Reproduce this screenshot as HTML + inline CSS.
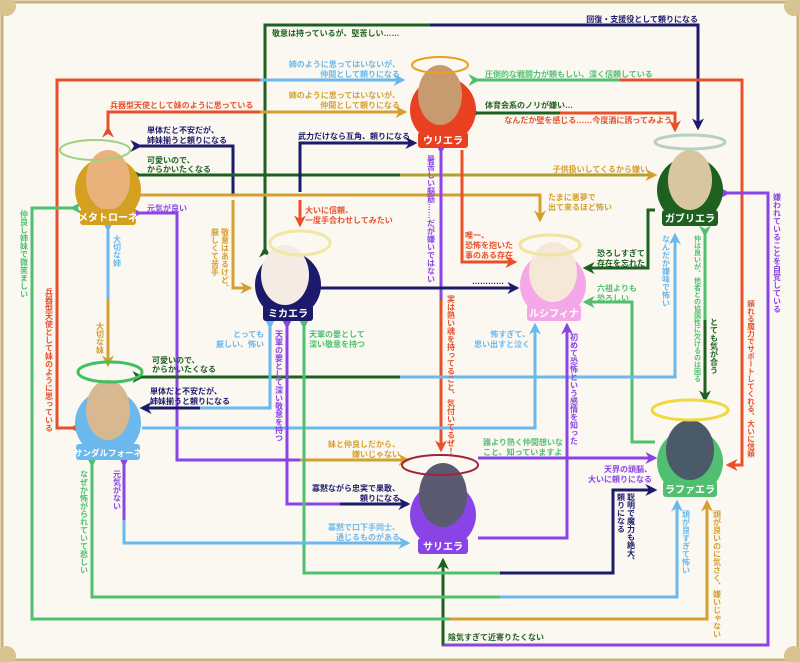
<!DOCTYPE html>
<html><head><meta charset="utf-8"><style>
html,body{margin:0;padding:0;background:#fbf8f2;}
svg{display:block;font-family:"Liberation Sans","Noto Sans CJK JP",sans-serif;font-weight:bold;}
.v{writing-mode:vertical-rl;}
text{font-size:8px;}
</style></head><body>
<svg width="800" height="662" viewBox="0 0 800 662" xmlns="http://www.w3.org/2000/svg">
<defs>
<marker id="m-red" viewBox="0 0 10 10" refX="8" refY="5" markerWidth="4" markerHeight="4" orient="auto"><path d="M0,0L10,5L0,10L3,5z" fill="#e8502a"/></marker>
<marker id="m-lb" viewBox="0 0 10 10" refX="8" refY="5" markerWidth="4" markerHeight="4" orient="auto"><path d="M0,0L10,5L0,10L3,5z" fill="#6ab8ec"/></marker>
<marker id="m-gold" viewBox="0 0 10 10" refX="8" refY="5" markerWidth="4" markerHeight="4" orient="auto"><path d="M0,0L10,5L0,10L3,5z" fill="#d4a030"/></marker>
<marker id="m-navy" viewBox="0 0 10 10" refX="8" refY="5" markerWidth="4" markerHeight="4" orient="auto"><path d="M0,0L10,5L0,10L3,5z" fill="#1c1a6a"/></marker>
<marker id="m-dg" viewBox="0 0 10 10" refX="8" refY="5" markerWidth="4" markerHeight="4" orient="auto"><path d="M0,0L10,5L0,10L3,5z" fill="#1e6020"/></marker>
<marker id="m-gr" viewBox="0 0 10 10" refX="8" refY="5" markerWidth="4" markerHeight="4" orient="auto"><path d="M0,0L10,5L0,10L3,5z" fill="#50c070"/></marker>
<marker id="m-pu" viewBox="0 0 10 10" refX="8" refY="5" markerWidth="4" markerHeight="4" orient="auto"><path d="M0,0L10,5L0,10L3,5z" fill="#8a44e6"/></marker>
</defs>
<rect x="2" y="2" width="796" height="658" fill="none" stroke="#c9b27c" stroke-width="3"/>
<circle cx="6" cy="6" r="10" fill="#d8c490"/><circle cx="794" cy="6" r="10" fill="#d8c490"/>
<circle cx="6" cy="656" r="10" fill="#d8c490"/><circle cx="794" cy="656" r="10" fill="#d8c490"/>

<g fill="none" stroke-width="3" stroke-linejoin="miter">
<polyline points="265,248 265,25 698,25 698,128" stroke="#1e6020" marker-start="url(#m-dg)"/>
<polyline points="430,25 698,25 698,128" stroke="#1c1a6a" marker-end="url(#m-navy)"/>
<polyline points="72,428 57,428 57,80 403,80" stroke="#e8502a" marker-start="url(#m-red)"/>
<polyline points="260,80 403,80" stroke="#6ab8ec" marker-end="url(#m-lb)"/>
<polyline points="108,128 108,112 405,112" stroke="#e8502a" marker-start="url(#m-red)"/>
<polyline points="260,112 405,112" stroke="#d4a030" marker-end="url(#m-gold)"/>
<polyline points="140,146 233,146 233,195" stroke="#1c1a6a" marker-start="url(#m-navy)"/>
<polyline points="233,200 233,288 250,288" stroke="#d4a030" marker-end="url(#m-gold)"/>
<polyline points="140,175 400,175" stroke="#1e6020" marker-start="url(#m-dg)"/>
<polyline points="400,175 655,175" stroke="#b0a030" marker-end="url(#m-gold)"/>
<polyline points="140,195 540,195 540,220" stroke="#d4a030" marker-end="url(#m-gold)"/>
<polyline points="140,213 177,213 177,460 300,460" stroke="#8a44e6" marker-start="url(#m-pu)"/>
<polyline points="300,460 408,460" stroke="#d4a030" marker-end="url(#m-gold)"/>
<polyline points="300,192 300,143 415,143" stroke="#1c1a6a" marker-end="url(#m-navy)"/>
<polyline points="300,200 300,225" stroke="#e8502a" marker-end="url(#m-red)"/>
<polyline points="478,113 675,113 675,130" stroke="#e8502a" marker-end="url(#m-red)"/>
<polyline points="478,113 560,113" stroke="#1e6020" marker-start="url(#m-dg)"/>
<polyline points="478,80 742,80 742,465 728,465" stroke="#e8502a" marker-end="url(#m-red)"/>
<polyline points="478,80 620,80" stroke="#50c070" marker-start="url(#m-gr)"/>
<polyline points="462,150 462,262 515,262" stroke="#e8502a" marker-end="url(#m-red)"/>
<polyline points="441,152 441,300" stroke="#8a44e6" marker-start="url(#m-pu)"/>
<polyline points="441,300 441,450" stroke="#e8502a" marker-end="url(#m-red)"/>
<polyline points="320,288 517,288" stroke="#1c1a6a" marker-end="url(#m-navy)"/>
<polyline points="655,210 648,210 648,268 585,268" stroke="#1e6020" marker-end="url(#m-dg)"/>
<polyline points="655,442 632,442 632,302 585,302" stroke="#50c070" marker-end="url(#m-gr)"/>
<polyline points="142,377 675,377 675,235" stroke="#6ab8ec" marker-end="url(#m-lb)"/>
<polyline points="142,377 400,377" stroke="#1e6020" marker-start="url(#m-dg)"/>
<polyline points="705,235 705,320" stroke="#50c070" marker-start="url(#m-gr)"/>
<polyline points="705,320 705,400" stroke="#1e6020" marker-end="url(#m-dg)"/>
<polyline points="728,193 768,193 768,645 443,645 443,560" stroke="#8a44e6" marker-start="url(#m-pu)"/>
<polyline points="443,645 443,560" stroke="#1e6020" marker-end="url(#m-dg)"/>
<polyline points="270,327 270,408 142,408" stroke="#6ab8ec" marker-start="url(#m-lb)"/>
<polyline points="200,408 142,408" stroke="#1c1a6a" marker-end="url(#m-navy)"/>
<polyline points="142,428 535,428 535,325" stroke="#6ab8ec" marker-end="url(#m-lb)"/>
<polyline points="287,327 287,504 408,504" stroke="#8a44e6" marker-start="url(#m-pu)"/>
<polyline points="340,504 408,504" stroke="#1c1a6a" marker-end="url(#m-navy)"/>
<polyline points="304,327 304,573 613,573 613,490 655,490" stroke="#50c070" marker-start="url(#m-gr)"/>
<polyline points="500,573 613,573 613,490 655,490" stroke="#1c1a6a" marker-end="url(#m-navy)"/>
<polyline points="124,465 124,543 408,543" stroke="#6ab8ec" marker-end="url(#m-lb)"/>
<polyline points="124,465 124,520" stroke="#8a44e6" marker-start="url(#m-pu)"/>
<polyline points="92,465 92,597 677,597 677,502" stroke="#50c070" marker-start="url(#m-gr)"/>
<polyline points="500,597 677,597 677,502" stroke="#6ab8ec" marker-end="url(#m-lb)"/>
<polyline points="72,208 32,208 32,619 707,619 707,502" stroke="#50c070" marker-start="url(#m-gr)"/>
<polyline points="450,619 707,619 707,502" stroke="#d4a030" marker-end="url(#m-gold)"/>
<polyline points="478,458 655,458" stroke="#8a44e6" marker-end="url(#m-pu)"/>
<polyline points="478,538 567,538 567,325" stroke="#8a44e6" marker-end="url(#m-pu)"/>
<polyline points="108,230 108,300" stroke="#6ab8ec" marker-start="url(#m-lb)"/>
<polyline points="108,300 108,365" stroke="#d4a030" marker-end="url(#m-gold)"/>
</g>

<g>
<circle cx="108" cy="190" r="33" fill="#d4a020"/><ellipse cx="108" cy="180" rx="22" ry="30" fill="#e9b27a"/>
<rect x="80" y="209" width="56" height="16" rx="3" fill="#d4a020"/><text x="108" y="221" text-anchor="middle" fill="#fff" style="font-size:10px">メタトローネ</text>
<circle cx="288" cy="285" r="33" fill="#1c1a6a"/><ellipse cx="285" cy="275" rx="24" ry="30" fill="#f4ece4"/>
<rect x="263" y="305" width="50" height="16" rx="3" fill="#1c1a6a"/><text x="288" y="317" text-anchor="middle" fill="#fff" style="font-size:10px">ミカエラ</text>
<circle cx="443" cy="110" r="33" fill="#e84020"/><ellipse cx="440" cy="95" rx="22" ry="30" fill="#c89a70"/>
<rect x="418" y="132" width="50" height="16" rx="3" fill="#e84020"/><text x="443" y="144" text-anchor="middle" fill="#fff" style="font-size:10px">ウリエラ</text>
<circle cx="690" cy="190" r="33" fill="#1e6020"/><ellipse cx="690" cy="180" rx="22" ry="30" fill="#d8c6a0"/>
<rect x="662" y="210" width="56" height="16" rx="3" fill="#1e6020"/><text x="690" y="222" text-anchor="middle" fill="#fff" style="font-size:10px">ガブリエラ</text>
<circle cx="553" cy="285" r="33" fill="#f4a8e8"/><ellipse cx="553" cy="272" rx="24" ry="30" fill="#f6e8d8"/>
<rect x="527" y="305" width="54" height="16" rx="3" fill="#f4a8e8"/><text x="554" y="317" text-anchor="middle" fill="#fff" style="font-size:10px">ルシフィナ</text>
<circle cx="108" cy="423" r="33" fill="#6ab8ec"/><ellipse cx="108" cy="410" rx="22" ry="30" fill="#d8b890"/>
<rect x="76" y="444" width="64" height="16" rx="3" fill="#6ab8ec"/><text x="108" y="456" text-anchor="middle" fill="#fff" style="font-size:8.5px">サンダルフォーネ</text>
<circle cx="443" cy="515" r="33" fill="#8a44e6"/><ellipse cx="443" cy="495" rx="24" ry="32" fill="#5a5a70"/>
<rect x="418" y="538" width="50" height="16" rx="3" fill="#8a44e6"/><text x="443" y="550" text-anchor="middle" fill="#fff" style="font-size:10px">サリエラ</text>
<circle cx="690" cy="462" r="33" fill="#50c070"/><ellipse cx="690" cy="450" rx="24" ry="30" fill="#4a5a68"/>
<ellipse cx="690" cy="410" rx="38" ry="10" fill="none" stroke="#f0d840" stroke-width="3"/>
<rect x="663" y="481" width="54" height="16" rx="3" fill="#50c070"/><text x="690" y="493" text-anchor="middle" fill="#fff" style="font-size:10px">ラファエラ</text>
<ellipse cx="690" cy="142" rx="35" ry="7" fill="none" stroke="#b8d0c0" stroke-width="3"/>
<ellipse cx="550" cy="245" rx="30" ry="10" fill="none" stroke="#f0e4a0" stroke-width="3"/>
<ellipse cx="440" cy="65" rx="28" ry="8" fill="none" stroke="#e8a020" stroke-width="2"/>
<ellipse cx="300" cy="243" rx="30" ry="12" fill="none" stroke="#f0e8a0" stroke-width="3"/>
<ellipse cx="440" cy="465" rx="38" ry="10" fill="none" stroke="#a02040" stroke-width="2"/>
<ellipse cx="110" cy="372" rx="32" ry="10" fill="none" stroke="#40c060" stroke-width="3"/>
<ellipse cx="95" cy="150" rx="35" ry="10" fill="none" stroke="#a0d080" stroke-width="2"/>
</g>

<g>
<text x="272" y="36" fill="#1e6020">敬意は持っているが、堅苦しい……</text>
<text x="400" y="67" text-anchor="end" fill="#6ab8ec">姉のように思ってはいないが、</text>
<text x="400" y="77" text-anchor="end" fill="#6ab8ec">仲間として頼りになる</text>
<text x="400" y="98" text-anchor="end" fill="#d4a030">姉のように思ってはいないが、</text>
<text x="400" y="108" text-anchor="end" fill="#d4a030">仲間として頼りになる</text>
<text x="110" y="108" fill="#e8502a">兵器型天使として妹のように思っている</text>
<text x="147" y="133" fill="#1c1a6a">単体だと不安だが、</text>
<text x="147" y="143" fill="#1c1a6a">姉妹揃うと頼りになる</text>
<text x="147" y="163" fill="#1e6020">可愛いので、</text>
<text x="147" y="172" fill="#1e6020">からかいたくなる</text>
<text x="147" y="211" fill="#8a44e6">元気が良い</text>
<text x="298" y="139" fill="#1c1a6a">武力だけなら互角、頼りになる</text>
<text x="305" y="213" fill="#e8502a">大いに信頼、</text>
<text x="305" y="223" fill="#e8502a">一度手合わせしてみたい</text>
<text x="698" y="22" text-anchor="end" fill="#1c1a6a">回復・支援役として頼りになる</text>
<text x="485" y="77" fill="#50c070">圧倒的な戦闘力が頼もしい、深く信頼している</text>
<text x="485" y="108" fill="#1e6020">体育会系のノリが嫌い…</text>
<text x="672" y="123" text-anchor="end" fill="#e8502a">なんだか壁を感じる……今度酒に誘ってみよう</text>
<text x="648" y="172" text-anchor="end" fill="#d4a030">子供扱いしてくるから嫌い</text>
<text x="548" y="200" fill="#d4a030">たまに悪夢で</text>
<text x="548" y="210" fill="#d4a030">出て来るほど怖い</text>
<text x="465" y="238" fill="#e8502a">唯一、</text>
<text x="465" y="248" fill="#e8502a">恐怖を抱いた</text>
<text x="465" y="258" fill="#e8502a">事のある存在</text>
<text x="597" y="256" fill="#1e6020">恐ろしすぎて</text>
<text x="597" y="266" fill="#1e6020">存在を忘れた</text>
<text x="472" y="284" fill="#1c1a6a">…………</text>
<text x="597" y="291" fill="#50c070">六祖よりも</text>
<text x="597" y="301" fill="#50c070">恐ろしい</text>
<text x="264" y="337" text-anchor="end" fill="#6ab8ec">とっても</text>
<text x="264" y="347" text-anchor="end" fill="#6ab8ec">厳しい、怖い</text>
<text x="309" y="337" fill="#50c070">天軍の要として</text>
<text x="309" y="347" fill="#50c070">深い敬意を持つ</text>
<text x="152" y="363" fill="#1e6020">可愛いので、</text>
<text x="152" y="372" fill="#1e6020">からかいたくなる</text>
<text x="150" y="394" fill="#1c1a6a">単体だと不安だが、</text>
<text x="150" y="404" fill="#1c1a6a">姉妹揃うと頼りになる</text>
<text x="530" y="337" text-anchor="end" fill="#6ab8ec">怖すぎて、</text>
<text x="530" y="347" text-anchor="end" fill="#6ab8ec">思い出すと泣く</text>
<text x="400" y="447" text-anchor="end" fill="#d4a030">妹と仲良しだから、</text>
<text x="400" y="457" text-anchor="end" fill="#d4a030">嫌いじゃない</text>
<text x="483" y="445" fill="#50c070">誰より熱く仲間想いな</text>
<text x="483" y="455" fill="#50c070">こと、知っていますよ</text>
<text x="652" y="472" text-anchor="end" fill="#8a44e6">天界の頭脳、</text>
<text x="652" y="482" text-anchor="end" fill="#8a44e6">大いに頼りになる</text>
<text x="400" y="491" text-anchor="end" fill="#1c1a6a">寡黙ながら忠実で果敢、</text>
<text x="400" y="501" text-anchor="end" fill="#1c1a6a">頼りになる</text>
<text x="400" y="530" text-anchor="end" fill="#6ab8ec">寡黙で口下手同士、</text>
<text x="400" y="540" text-anchor="end" fill="#6ab8ec">通じるものがある</text>
<text x="448" y="640" fill="#1e6020">陰気すぎて近寄りたくない</text>
</g>

<g>
<text class="v" x="24" y="210" fill="#50c070">仲良し姉妹で微笑ましい</text>
<text class="v" x="49" y="288" fill="#e8502a">兵器型天使として妹のように思っている</text>
<text class="v" x="117" y="235" fill="#6ab8ec">大切な姉</text>
<text class="v" x="100" y="322" fill="#d4a030">大切な妹</text>
<text class="v" x="225" y="228" fill="#d4a030">敬意はあるけど、</text>
<text class="v" x="215" y="228" fill="#d4a030">厳しくて苦手</text>
<text class="v" x="431" y="155" fill="#8a44e6">暑苦しい脳筋……だが嫌いではない</text>
<text class="v" x="451" y="295" fill="#e8502a">実は熱い魂を持ってること、気付いてるぜ！</text>
<text class="v" x="279" y="330" fill="#8a44e6">天軍の要として深い敬意を持つ</text>
<text class="v" x="117" y="470" fill="#8a44e6">元気がない</text>
<text class="v" x="84" y="470" fill="#50c070">なぜか怖がられていて悲しい</text>
<text class="v" x="574" y="333" fill="#8a44e6">初めて恐怖という感情を知った</text>
<text class="v" x="666" y="235" fill="#6ab8ec">なんだか嫌味で怖い</text>
<text class="v" x="697" y="235" fill="#50c070" style="font-size:7px">仲は良いが、他者との協調性に欠けるのは困る</text>
<text class="v" x="714" y="318" fill="#1e6020">とても気が合う</text>
<text class="v" x="751" y="300" fill="#e8502a" style="font-size:7.5px">頼れる魔力でサポートしてくれる、大いに信頼</text>
<text class="v" x="777" y="193" fill="#8a44e6">嫌われていることを自覚している</text>
<text class="v" x="631" y="493" fill="#1c1a6a">聡明で魔力も絶大、</text>
<text class="v" x="621" y="493" fill="#1c1a6a">頼りになる</text>
<text class="v" x="686" y="510" fill="#6ab8ec">頭が良すぎて怖い</text>
<text class="v" x="717" y="510" fill="#d4a030">頭が良いのに気さく、嫌いじゃない</text>
</g>
</svg>
</body></html>
